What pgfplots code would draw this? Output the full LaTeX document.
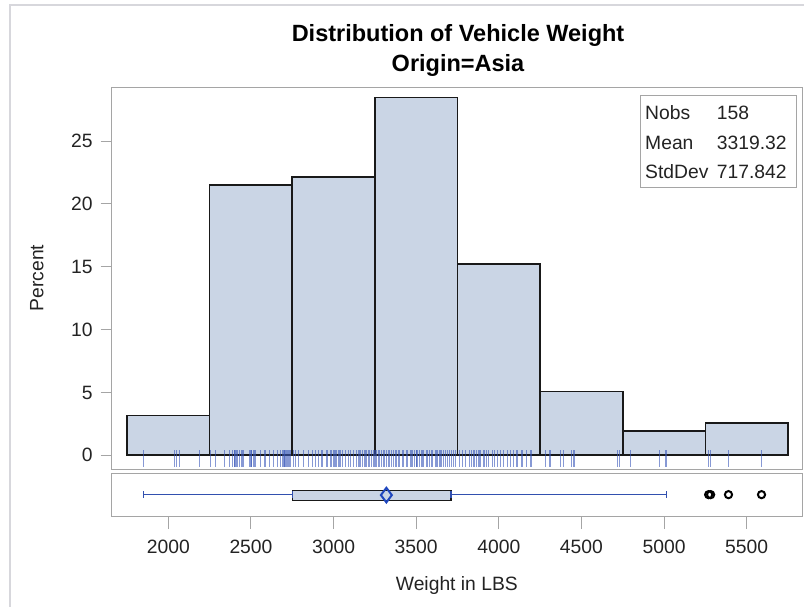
\documentclass[border=0pt]{standalone}
\usepackage{fontspec}
\setmainfont{Liberation Sans}
\usepackage{pgfplots}
\pgfplotsset{compat=1.18}
\usepackage{pgfplotstable}
\definecolor{barfill}{RGB}{202,213,229}
\definecolor{rugblue}{RGB}{55,85,185}
\definecolor{whiskblue}{RGB}{50,80,175}
\definecolor{meanblue}{RGB}{30,70,190}
\definecolor{axgray}{RGB}{165,165,165}
\definecolor{txt}{RGB}{35,35,35}
\definecolor{framegray}{RGB}{215,215,220}

% histogram: left bin edge, percent
\pgfplotstableread{
x pct
1750 3.16
2250 21.52
2750 22.15
3250 28.48
3750 15.19
4250 5.06
4750 1.90
5250 2.53
5750 2.53
}\histdata

% fringe (rug) of individual weights; r = vertical position of the fringe
\pgfplotstableread{
w r
1850 -0.28
2035 -0.28
2050 -0.28
2065 -0.28
2190 -0.28
2255 -0.28
2285 -0.28
2340 -0.28
2370 -0.28
2387 -0.28
2400 -0.28
2403 -0.28
2410 -0.28
2420 -0.28
2430 -0.28
2440 -0.28
2450 -0.28
2455 -0.28
2490 -0.28
2500 -0.28
2505 -0.28
2513 -0.28
2520 -0.28
2530 -0.28
2560 -0.28
2580 -0.28
2590 -0.28
2610 -0.28
2635 -0.28
2660 -0.28
2680 -0.28
2690 -0.28
2700 -0.28
2705 -0.28
2710 -0.28
2715 -0.28
2720 -0.28
2730 -0.28
2740 -0.28
2755 -0.28
2770 -0.28
2790 -0.28
2820 -0.28
2850 -0.28
2870 -0.28
2890 -0.28
2910 -0.28
2930 -0.28
2960 -0.28
2980 -0.28
2990 -0.28
3000 -0.28
3005 -0.28
3010 -0.28
3020 -0.28
3030 -0.28
3035 -0.28
3040 -0.28
3055 -0.28
3070 -0.28
3090 -0.28
3100 -0.28
3120 -0.28
3140 -0.28
3150 -0.28
3160 -0.28
3175 -0.28
3190 -0.28
3200 -0.28
3210 -0.28
3220 -0.28
3230 -0.28
3240 -0.28
3245 -0.28
3255 -0.28
3260 -0.28
3270 -0.28
3280 -0.28
3290 -0.28
3300 -0.28
3310 -0.28
3320 -0.28
3330 -0.28
3340 -0.28
3350 -0.28
3360 -0.28
3375 -0.28
3380 -0.28
3395 -0.28
3400 -0.28
3415 -0.28
3425 -0.28
3440 -0.28
3450 -0.28
3465 -0.28
3470 -0.28
3480 -0.28
3490 -0.28
3500 -0.28
3505 -0.28
3520 -0.28
3535 -0.28
3545 -0.28
3560 -0.28
3570 -0.28
3580 -0.28
3590 -0.28
3600 -0.28
3620 -0.28
3630 -0.28
3640 -0.28
3650 -0.28
3665 -0.28
3680 -0.28
3690 -0.28
3700 -0.28
3715 -0.28
3725 -0.28
3740 -0.28
3760 -0.28
3780 -0.28
3800 -0.28
3820 -0.28
3835 -0.28
3850 -0.28
3865 -0.28
3880 -0.28
3890 -0.28
3910 -0.28
3925 -0.28
3940 -0.28
3960 -0.28
3975 -0.28
3990 -0.28
4010 -0.28
4030 -0.28
4050 -0.28
4070 -0.28
4090 -0.28
4110 -0.28
4140 -0.28
4170 -0.28
4195 -0.28
4285 -0.28
4310 -0.28
4375 -0.28
4390 -0.28
4441 -0.28
4455 -0.28
4717 -0.28
4733 -0.28
4798 -0.28
4970 -0.28
5012 -0.28
5270 -0.28
5282 -0.28
5390 -0.28
5590 -0.28
}\rugdata

\begin{document}
\begin{tikzpicture}
\path[use as bounding box] (0bp,0bp) rectangle (804bp,-607bp);
\draw[framegray, line width=1.5bp] (10bp,-607bp) -- (10bp,-5bp) -- (804bp,-5bp);

\node[anchor=base, inner sep=0pt, font=\fontsize{23.5bp}{28bp}\selectfont\bfseries] at (458bp,-41bp) {Distribution of Vehicle Weight};
\node[anchor=base, inner sep=0pt, font=\fontsize{23.5bp}{28bp}\selectfont\bfseries] at (458bp,-71bp) {Origin=Asia};

\begin{axis}[
  at={(111.7bp,-87.3bp)}, anchor=north west, scale only axis,
  width=690.3bp, height=381.7bp,
  xmin=1657, xmax=5835, ymin=-1.11, ymax=29.28,
  axis line style={axgray, line width=1bp},
  xtick=\empty,
  ytick={0,5,10,15,20,25}, yticklabels={0,5,10,15,20,25},
  ytick pos=left, tick align=outside, major tick length=11bp,
  tick style={axgray, line width=1bp},
  yticklabel style={font=\fontsize{19.3bp}{23bp}\selectfont, text=txt, anchor=base east, inner sep=0pt, xshift=-8bp, yshift=-6.9bp},
]
\addplot[ybar interval, fill=barfill, draw=black!90, line width=1.6bp] table[x=x, y=pct] {\histdata};
\addplot[only marks, mark=|, mark size=8.5bp, mark options={draw=rugblue, line width=1.1bp, opacity=0.6}] table[x=w, y=r] {\rugdata};
\end{axis}

\begin{axis}[
  at={(111.7bp,-473.3bp)}, anchor=north west, scale only axis,
  width=690.3bp, height=42.7bp,
  xmin=1657, xmax=5835, ymin=0, ymax=1,
  axis line style={axgray, line width=1bp},
  ytick=\empty,
  xtick={2000,2500,3000,3500,4000,4500,5000,5500},
  xticklabels={2000,2500,3000,3500,4000,4500,5000,5500},
  xtick pos=bottom, tick align=outside, major tick length=13bp,
  tick style={axgray, line width=1bp},
  xticklabel style={font=\fontsize{19.3bp}{23bp}\selectfont, text=txt, anchor=base, inner sep=0pt, yshift=-24.3bp},
]
\addplot[whiskblue, line width=1.6bp, mark=|, mark size=3.5bp, mark options={solid, line width=1.2bp}] coordinates {(1850,0.5) (2750,0.5)};
\addplot[whiskblue, line width=1.6bp, mark=|, mark size=3.5bp, mark options={solid, line width=1.2bp}] coordinates {(3710,0.5) (5013,0.5)};
\addplot[draw=black!90, line width=1.5bp, fill=barfill, line join=miter] coordinates {(2750,0.36) (3710,0.36) (3710,0.6) (2750,0.6) (2750,0.36)};
\addplot[only marks, mark=diamond, mark size=7.3bp, mark options={draw=meanblue, fill=barfill, line width=2bp}] coordinates {(3319.32,0.49)};
\addplot[only marks, mark=o, mark size=3.6bp, mark options={draw=black, line width=2bp}] coordinates {(5270,0.5) (5282,0.5) (5390,0.5) (5590,0.5)};
\end{axis}

\node[anchor=base, inner sep=0pt, font=\fontsize{19.3bp}{23bp}\selectfont, text=txt] at (456.85bp,-590bp) {Weight in LBS};
\node[anchor=base, rotate=90, inner sep=0pt, font=\fontsize{19.3bp}{23bp}\selectfont, text=txt] at (43.3bp,-278bp) {Percent};

\draw[axgray, line width=1bp, fill=white] (640bp,-95.5bp) rectangle (796bp,-187bp);
\begin{scope}[every node/.style={anchor=base west, inner sep=0pt, font=\fontsize{19.3bp}{23bp}\selectfont, text=txt}]
\node at (645bp,-119bp) {Nobs};
\node at (716.7bp,-119bp) {158};
\node at (645bp,-149bp) {Mean};
\node at (716.7bp,-149bp) {3319.32};
\node at (645bp,-178bp) {StdDev};
\node at (716.7bp,-178bp) {717.842};
\end{scope}
\end{tikzpicture}
\end{document}
